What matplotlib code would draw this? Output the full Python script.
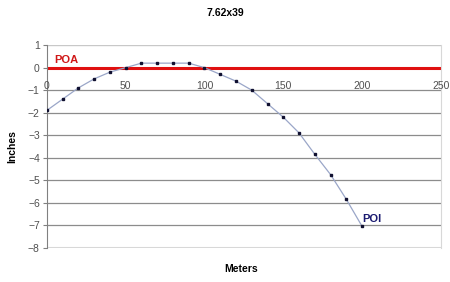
import matplotlib.pyplot as plt

plt.rcParams['font.family'] = ['Liberation Sans', 'DejaVu Sans']

meters = [0, 10, 20, 30, 40, 50, 60, 70, 80, 90, 100,
          110, 120, 130, 140, 150, 160, 170, 180, 190, 200]
inches = [-1.9, -1.4, -0.9, -0.5, -0.2, 0.0, 0.2, 0.2, 0.2, 0.2, 0.0,
          -0.3, -0.6, -1.0, -1.6, -2.2, -2.9, -3.85, -4.75, -5.85, -7.05]
xticks = [0, 50, 100, 150, 200, 250]

fig = plt.figure(figsize=(4.5, 2.82), dpi=100)
ax = fig.add_axes([0.104, 0.121, 0.876, 0.719])

ax.set_xlim(0, 250)
ax.set_ylim(-8, 1)

# horizontal gridlines
for yv in range(-7, 1):
    if yv != 0:
        ax.axhline(yv, color='#8c8c8c', lw=0.9, zorder=1)
ax.axhline(1, color='#c8c8c8', lw=1.0, zorder=1)
ax.axhline(-8, color='#d8d8d8', lw=1.5, zorder=1)

# point of aim line
ax.axhline(0, color='#e01010', lw=2.2, zorder=2)
ax.plot(meters, inches, color='#9aa6c8', lw=0.9, marker='s', markersize=2,
        markerfacecolor='#101030', markeredgecolor='#101030', zorder=3)

ax.text(5, 0.35, 'POA', color='#d01818', fontsize=8, fontweight='bold',
        va='center', zorder=4)
ax.text(200, -6.72, 'POI', color='#1a1a70', fontsize=8, fontweight='bold',
        va='center', zorder=4)

ax.spines['bottom'].set_visible(False)
ax.spines['top'].set_visible(False)
ax.spines['right'].set_color('#d8d8d8')
ax.spines['left'].set_color('#808080')

ax.set_yticks(range(-8, 2))
ax.set_xticks([])
ax.tick_params(axis='y', length=3, pad=2, labelsize=7.5, labelcolor='#505050',
               color='#808080')

# excel puts the category labels under the zero crossing
for xv in xticks:
    ax.text(xv, -0.8, str(xv), ha='center', va='center', fontsize=7.5,
            color='#505050', zorder=4)

fig.text(0.5, 0.955, '7.62x39', ha='center', va='center', fontsize=7.5, fontweight='bold')
fig.text(0.535, 0.045, 'Meters', ha='center', va='center', fontsize=7.5, fontweight='bold')
fig.text(0.028, 0.48, 'Inches', ha='center', va='center', fontsize=7.5,
         fontweight='bold', rotation=90)

fig.savefig('out.png', dpi=100)
